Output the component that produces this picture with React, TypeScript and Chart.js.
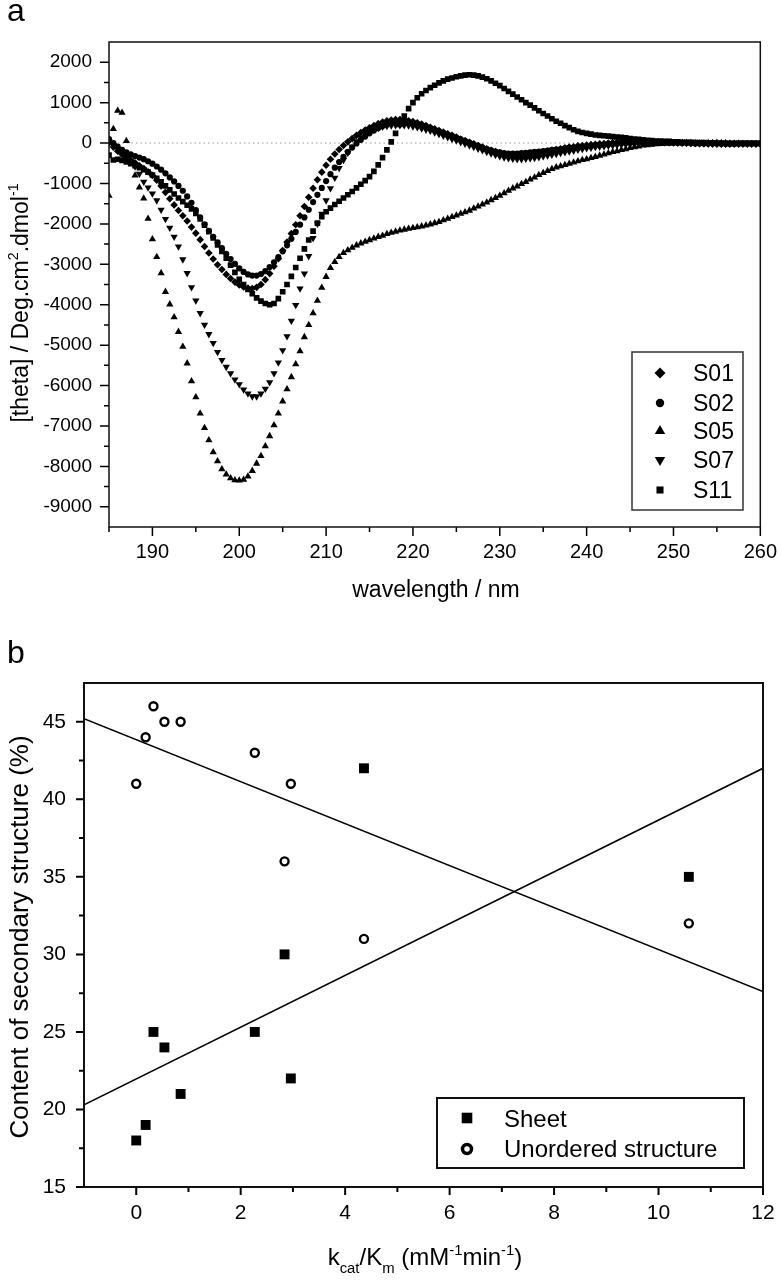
import React, { useEffect, useRef } from "react";
import { Chart, registerables } from "chart.js";
import { drawPoint } from "chart.js/helpers";

Chart.register(...registerables);

const FONT = "'Liberation Sans', Arial, Helvetica, sans-serif";

// ---------------- Panel a: CD spectra ----------------
const WAVELENGTH = [
  185, 185.5, 186, 186.5, 187, 187.5, 188, 188.5, 189, 189.5,
  190, 190.5, 191, 191.5, 192, 192.5, 193, 193.5, 194, 194.5,
  195, 195.5, 196, 196.5, 197, 197.5, 198, 198.5, 199, 199.5,
  200, 200.5, 201, 201.5, 202, 202.5, 203, 203.5, 204, 204.5,
  205, 205.5, 206, 206.5, 207, 207.5, 208, 208.5, 209, 209.5,
  210, 210.5, 211, 211.5, 212, 212.5, 213, 213.5, 214, 214.5,
  215, 215.5, 216, 216.5, 217, 217.5, 218, 218.5, 219, 219.5,
  220, 220.5, 221, 221.5, 222, 222.5, 223, 223.5, 224, 224.5,
  225, 225.5, 226, 226.5, 227, 227.5, 228, 228.5, 229, 229.5,
  230, 230.5, 231, 231.5, 232, 232.5, 233, 233.5, 234, 234.5,
  235, 235.5, 236, 236.5, 237, 237.5, 238, 238.5, 239, 239.5,
  240, 240.5, 241, 241.5, 242, 242.5, 243, 243.5, 244, 244.5,
  245, 245.5, 246, 246.5, 247, 247.5, 248, 248.5, 249, 249.5,
  250, 250.5, 251, 251.5, 252, 252.5, 253, 253.5, 254, 254.5,
  255, 255.5, 256, 256.5, 257, 257.5, 258, 258.5, 259, 259.5,
  260,
];

const S01 = [
  0, -100, -200, -280, -350, -420, -490, -560, -630, -710,
  -800, -920, -1060, -1220, -1380, -1530, -1670, -1800, -1930, -2080,
  -2230, -2390, -2560, -2720, -2870, -3010, -3130, -3250, -3350, -3440,
  -3510, -3560, -3590, -3600, -3570, -3500, -3380, -3230, -3050, -2860,
  -2660, -2450, -2240, -2020, -1800, -1570, -1340, -1120, -910, -720,
  -550, -400, -270, -160, -60, 30, 110, 190, 260, 320,
  380, 430, 480, 520, 550, 570, 580, 580, 570, 550,
  530, 500, 470, 430, 390, 350, 310, 270, 230, 190,
  150, 100, 60, 20, -20, -60, -100, -140, -180, -210,
  -240, -270, -290, -300, -300, -300, -290, -280, -260, -240,
  -220, -200, -180, -160, -140, -120, -100, -90, -70, -60,
  -50, -40, -30, -20, -10, 0, 10, 20, 20, 30,
  30, 30, 30, 30, 30, 20, 20, 20, 10, 10,
  10, 0, 0, 0, -10, -10, -10, -10, -20, -20,
  -20, -20, -20, -20, -20, -20, -20, -20, -20, -20,
  -20,
];

const S02 = [
  100, 0, -90, -170, -230, -280, -320, -360, -400, -450,
  -510, -580, -660, -750, -850, -950, -1060, -1180, -1320, -1480,
  -1660, -1840, -2010, -2170, -2320, -2460, -2600, -2740, -2870, -2990,
  -3100, -3190, -3250, -3280, -3280, -3240, -3170, -3070, -2950, -2820,
  -2680, -2530, -2370, -2200, -2020, -1840, -1650, -1460, -1280, -1110,
  -940, -770, -610, -470, -340, -220, -110, -10, 80, 160,
  240, 310, 370, 420, 460, 490, 510, 520, 520, 510,
  490, 470, 440, 410, 370, 330, 290, 250, 210, 170,
  130, 90, 50, 10, -30, -70, -110, -150, -180, -210,
  -230, -250, -260, -260, -260, -250, -240, -230, -220, -210,
  -200, -190, -170, -160, -150, -130, -120, -110, -100, -90,
  -80, -70, -60, -50, -40, -30, -20, -10, 0, 0,
  10, 10, 20, 20, 20, 20, 20, 20, 10, 10,
  10, 10, 0, 0, 0, -10, -10, -10, -10, -10,
  -10, -20, -20, -20, -20, -10, -10, -10, -10, -10,
  -10,
];

const S05 = [
  -1300, 350, 800, 750, 50, -450, -800, -1100, -1370, -1870,
  -2380, -2820, -3220, -3680, -3990, -4310, -4670, -5040, -5450, -5890,
  -6290, -6690, -7050, -7350, -7650, -7870, -8070, -8200, -8290, -8340,
  -8350, -8330, -8250, -8110, -7930, -7740, -7500, -7250, -6980, -6690,
  -6390, -6090, -5790, -5470, -5150, -4800, -4500, -4210, -3900, -3580,
  -3310, -3090, -2940, -2820, -2720, -2650, -2590, -2530, -2480, -2440,
  -2400, -2360, -2320, -2290, -2250, -2220, -2190, -2160, -2140, -2120,
  -2100, -2080, -2060, -2040, -2010, -1980, -1950, -1910, -1870, -1830,
  -1790, -1750, -1710, -1670, -1620, -1570, -1520, -1470, -1410, -1360,
  -1300, -1240, -1180, -1120, -1070, -1010, -960, -900, -850, -790,
  -740, -690, -640, -600, -570, -540, -510, -480, -450, -420,
  -400, -370, -340, -310, -280, -250, -220, -200, -170, -150,
  -120, -100, -80, -60, -50, -40, -30, -20, -10, -10,
  0, 0, 10, 10, 0, 0, -10, -10, 0, 0,
  10, 0, 0, -10, -10, -10, -20, -20, -20, -20,
  -20,
];

const S07 = [
  50, -50, -150, -250, -350, -450, -580, -760, -960, -1100,
  -1250, -1420, -1650, -1880, -2100, -2320, -2560, -2880, -3220, -3570,
  -3900, -4210, -4500, -4730, -4950, -5170, -5370, -5540, -5700, -5850,
  -5970, -6100, -6200, -6270, -6270, -6200, -6080, -5920, -5700, -5430,
  -5130, -4780, -4400, -4010, -3600, -3230, -2800, -2350, -2000, -1750,
  -1420, -1120, -860, -620, -420, -240, -90, 40, 140, 220,
  280, 330, 370, 400, 420, 430, 440, 440, 440, 430,
  410, 390, 360, 330, 300, 260, 220, 180, 140, 100,
  60, 20, -20, -60, -100, -140, -180, -220, -260, -300,
  -330, -360, -380, -390, -400, -400, -390, -380, -370, -350,
  -330, -310, -290, -270, -250, -230, -210, -190, -170, -150,
  -130, -120, -100, -90, -80, -70, -60, -50, -40, -30,
  -20, -10, 0, 0, 10, 10, 20, 20, 20, 20,
  10, 10, 10, 0, 0, 0, -10, -10, -10, -10,
  -20, -20, -20, -20, -20, -20, -20, -20, -20, -20,
  -20,
];

const S11 = [
  -300, -420, -400, -430, -470, -510, -560, -610, -660, -720,
  -790, -870, -960, -1060, -1160, -1260, -1360, -1450, -1540, -1630,
  -1740, -1880, -2030, -2190, -2350, -2520, -2680, -2850, -3020, -3200,
  -3370, -3500, -3620, -3730, -3830, -3910, -3970, -4000, -3970, -3850,
  -3680, -3500, -3300, -3080, -2850, -2620, -2400, -2180, -1980, -1820,
  -1700, -1610, -1520, -1440, -1360, -1280, -1200, -1110, -1020, -930,
  -830, -700, -540, -360, -170, 30, 240, 460, 670, 850,
  1000, 1120, 1220, 1300, 1370, 1430, 1490, 1540, 1580, 1610,
  1640, 1660, 1680, 1690, 1680, 1660, 1630, 1590, 1540, 1480,
  1420, 1350, 1280, 1210, 1140, 1070, 1000, 940, 870, 800,
  730, 670, 600, 540, 490, 430, 380, 330, 290, 260,
  240, 220, 200, 190, 180, 170, 160, 150, 140, 130,
  110, 100, 90, 80, 70, 60, 50, 50, 40, 40,
  30, 30, 20, 20, 20, 10, 10, 10, 0, 0,
  0, 0, -10, -10, -10, -10, -10, -10, -10, -10,
  -10,
];

const ZERO_LINE_X = [185, 260];
const ZERO_LINE_Y = [0, 0];

const TOP_X_TICKS = [190, 200, 210, 220, 230, 240, 250, 260];
const TOP_X_MINOR = [185, 195, 205, 215, 225, 235, 245, 255];
const TOP_Y_TICKS = [-9000, -8000, -7000, -6000, -5000, -4000, -3000, -2000, -1000, 0, 1000, 2000];
const TOP_Y_MINOR = [-8500, -7500, -6500, -5500, -4500, -3500, -2500, -1500, -500, 500, 1500];

// ---------------- Panel b: secondary structure vs kcat/Km ----------------
const KCAT_KM = [0, 0.18, 0.33, 0.54, 0.85, 2.27, 2.84, 2.96, 4.36, 10.58];
const SHEET = [18, 19, 25, 24, 21, 25, 30, 22, 42, 35];
const UNORDERED = [41, 44, 46, 45, 45, 43, 36, 41, 31, 32];
const FIT_X = [-1, 12];
const SHEET_FIT = [20.3, 42.0];
const UNORDERED_FIT = [45.2, 27.6];

const BOT_X_TICKS = [0, 2, 4, 6, 8, 10, 12];
const BOT_X_MINOR = [1, 3, 5, 7, 9, 11];
const BOT_Y_TICKS = [15, 20, 25, 30, 35, 40, 45];
const BOT_Y_MINOR = [17.5, 22.5, 27.5, 32.5, 37.5, 42.5];

type Seg = { t: string; pos?: "sup" | "sub" };

function drawRich(ctx: CanvasRenderingContext2D, segs: Seg[], x: number, y: number, size: number, align: "left" | "center") {
  const small = size * 0.62;
  const widths = segs.map((s) => {
    ctx.font = `${s.pos ? small : size}px ${FONT}`;
    return ctx.measureText(s.t).width;
  });
  const total = widths.reduce((a, b) => a + b, 0);
  let cx = align === "center" ? x - total / 2 : x;
  ctx.textAlign = "left";
  ctx.textBaseline = "alphabetic";
  segs.forEach((s, i) => {
    ctx.font = `${s.pos ? small : size}px ${FONT}`;
    const dy = s.pos === "sup" ? -size * 0.42 : s.pos === "sub" ? size * 0.33 : 0;
    ctx.fillText(s.t, cx, y + dy);
    cx += widths[i];
  });
}

type DecorCfg = {
  xMajor: number[];
  xMinor: number[];
  yMajor: number[];
  yMinor: number[];
  majorLen: number;
  minorLen: number;
  tickWidth: number;
  frameWidth: number;
  extra: (ctx: CanvasRenderingContext2D, chart: any) => void;
};

function makeDecor(id: string, d: DecorCfg) {
  return {
    id,
    afterDraw(chart: any) {
      const { ctx, chartArea: a, scales } = chart;
      const xs = scales.x;
      const ys = scales.y;
      ctx.save();
      ctx.strokeStyle = "#000";
      ctx.lineWidth = d.tickWidth;
      ctx.beginPath();
      const xt = (v: number, len: number) => {
        const px = xs.getPixelForValue(v);
        ctx.moveTo(px, a.bottom);
        ctx.lineTo(px, a.bottom + len);
      };
      const yt = (v: number, len: number) => {
        const py = ys.getPixelForValue(v);
        ctx.moveTo(a.left, py);
        ctx.lineTo(a.left - len, py);
      };
      d.xMajor.forEach((v) => xt(v, d.majorLen));
      d.xMinor.forEach((v) => xt(v, d.minorLen));
      d.yMajor.forEach((v) => yt(v, d.majorLen));
      d.yMinor.forEach((v) => yt(v, d.minorLen));
      ctx.stroke();
      ctx.lineWidth = d.frameWidth;
      ctx.strokeStyle = "#111";
      ctx.strokeRect(a.left, a.top, a.right - a.left, a.bottom - a.top);
      ctx.fillStyle = "#000";
      d.extra(ctx, chart);
      ctx.restore();
    },
  };
}

const TOP_SERIES = [
  { label: "S01", data: S01, style: "rectRot", radius: 3.8, rotation: 0, legendRadius: 5.5 },
  { label: "S02", data: S02, style: "circle", radius: 3.1, rotation: 0, legendRadius: 4.2 },
  { label: "S05", data: S05, style: "triangle", radius: 4.2, rotation: 0, legendRadius: 6 },
  { label: "S07", data: S07, style: "triangle", radius: 4.2, rotation: 180, legendRadius: 6 },
  { label: "S11", data: S11, style: "rect", radius: 4, rotation: 0, legendRadius: 5 },
];

function TopChart() {
  const ref = useRef<HTMLCanvasElement | null>(null);
  useEffect(() => {
    if (!ref.current) return;
    const decor = makeDecor("decorTop", {
      xMajor: TOP_X_TICKS,
      xMinor: TOP_X_MINOR,
      yMajor: TOP_Y_TICKS,
      yMinor: TOP_Y_MINOR,
      majorLen: 9,
      minorLen: 5,
      tickWidth: 1.5,
      frameWidth: 1.5,
      extra: (ctx) => {
        ctx.font = `32px ${FONT}`;
        ctx.textAlign = "left";
        ctx.textBaseline = "alphabetic";
        ctx.fillText("a", 7, 21);
        ctx.font = `23px ${FONT}`;
        ctx.textAlign = "center";
        ctx.fillText("wavelength / nm", 436, 597);
        ctx.save();
        ctx.translate(28, 303);
        ctx.rotate(-Math.PI / 2);
        drawRich(ctx, [{ t: "[theta] / Deg.cm" }, { t: "2", pos: "sup" }, { t: ".dmol" }, { t: "-1", pos: "sup" }], 0, 0, 23, "center");
        ctx.restore();
        // legend
        ctx.lineWidth = 1.5;
        ctx.strokeStyle = "#333";
        ctx.strokeRect(632, 352, 111, 158);
        const ys = [373, 403, 431, 460, 490];
        TOP_SERIES.forEach((s, i) => {
          ctx.fillStyle = "#000";
          drawPoint(ctx, { pointStyle: s.style as any, rotation: s.rotation, radius: s.legendRadius, borderWidth: 0 } as any, 660, ys[i]);
          ctx.font = `23px ${FONT}`;
          ctx.textAlign = "left";
          ctx.textBaseline = "alphabetic";
          ctx.fillText(s.label, 693, ys[i] + 8);
        });
      },
    });
    const datasets: any[] = TOP_SERIES.map((s) => ({
      label: s.label,
      data: WAVELENGTH.map((x, i) => ({ x, y: s.data[i] })),
      showLine: false,
      pointStyle: s.style,
      pointRotation: s.rotation,
      pointRadius: s.radius,
      pointBackgroundColor: "#000",
      pointBorderWidth: 0,
      order: 1,
    }));
    datasets.push({
      label: "zero",
      data: ZERO_LINE_X.map((x, i) => ({ x, y: ZERO_LINE_Y[i] })),
      showLine: true,
      borderColor: "#9a9a9a",
      borderWidth: 1,
      borderDash: [1.5, 3],
      pointRadius: 0,
      order: 10,
    });
    const chart = new Chart(ref.current, {
      type: "scatter",
      data: { datasets },
      options: {
        animation: false,
        responsive: false,
        devicePixelRatio: 1,
        layout: { padding: { top: 42, right: 18, left: 0, bottom: 0 } },
        plugins: { legend: { display: false }, tooltip: { enabled: false } },
        scales: {
          x: {
            type: "linear",
            min: 185,
            max: 260,
            afterFit: (s: any) => { s.height = 93; },
            afterBuildTicks: (s: any) => { s.ticks = TOP_X_TICKS.map((v) => ({ value: v })); },
            grid: { display: true, drawOnChartArea: false, drawTicks: true, tickLength: 9, tickColor: "rgba(0,0,0,0)" },
            border: { display: false },
            ticks: { padding: 4, color: "#000", font: { family: FONT, size: 20 }, maxRotation: 0, callback: (v: any) => String(v) },
          },
          y: {
            type: "linear",
            min: -9500,
            max: 2500,
            afterFit: (s: any) => { s.width = 109; },
            afterBuildTicks: (s: any) => { s.ticks = TOP_Y_TICKS.map((v) => ({ value: v })); },
            grid: { display: true, drawOnChartArea: false, drawTicks: true, tickLength: 9, tickColor: "rgba(0,0,0,0)" },
            border: { display: false },
            ticks: { padding: 8, color: "#000", font: { family: FONT, size: 19 }, callback: (v: any) => String(v) },
          },
        },
      } as any,
      plugins: [decor],
    });
    return () => chart.destroy();
  }, []);
  return <canvas ref={ref} width={781} height={620} style={{ position: "absolute", left: 0, top: 0, width: 781, height: 620 }} />;
}

function BottomChart() {
  const ref = useRef<HTMLCanvasElement | null>(null);
  useEffect(() => {
    if (!ref.current) return;
    const decor = makeDecor("decorBottom", {
      xMajor: BOT_X_TICKS,
      xMinor: BOT_X_MINOR,
      yMajor: BOT_Y_TICKS,
      yMinor: BOT_Y_MINOR,
      majorLen: 8,
      minorLen: 5,
      tickWidth: 2,
      frameWidth: 2,
      extra: (ctx) => {
        ctx.font = `32px ${FONT}`;
        ctx.textAlign = "left";
        ctx.textBaseline = "alphabetic";
        ctx.fillText("b", 7, 43);
        drawRich(
          ctx,
          [
            { t: "k" }, { t: "cat", pos: "sub" }, { t: "/K" }, { t: "m", pos: "sub" },
            { t: " (mM" }, { t: "-1", pos: "sup" }, { t: "min" }, { t: "-1", pos: "sup" }, { t: ")" },
          ],
          425, 645, 24, "center"
        );
        ctx.save();
        ctx.translate(28, 317);
        ctx.rotate(-Math.PI / 2);
        ctx.font = `26px ${FONT}`;
        ctx.textAlign = "center";
        ctx.textBaseline = "alphabetic";
        ctx.fillText("Content of secondary structure (%)", 0, 0);
        ctx.restore();
        // legend
        ctx.lineWidth = 2;
        ctx.strokeStyle = "#111";
        ctx.strokeRect(437, 478, 307, 70);
        ctx.fillStyle = "#000";
        drawPoint(ctx, { pointStyle: "rect", rotation: 0, radius: 7.5, borderWidth: 0 } as any, 467, 498);
        ctx.fillStyle = "#fff";
        ctx.strokeStyle = "#000";
        ctx.lineWidth = 3.5;
        drawPoint(ctx, { pointStyle: "circle", rotation: 0, radius: 4.5, borderWidth: 3.5 } as any, 467, 529);
        ctx.fillStyle = "#000";
        ctx.font = `24px ${FONT}`;
        ctx.textAlign = "left";
        ctx.textBaseline = "alphabetic";
        ctx.fillText("Sheet", 504, 507);
        ctx.fillText("Unordered structure", 504, 537);
      },
    });
    const chart = new Chart(ref.current, {
      type: "scatter",
      data: {
        datasets: [
          {
            label: "Sheet",
            data: KCAT_KM.map((x, i) => ({ x, y: SHEET[i] })),
            pointStyle: "rect",
            pointRadius: 7,
            pointBackgroundColor: "#000",
            pointBorderWidth: 0,
          },
          {
            label: "Unordered structure",
            data: KCAT_KM.map((x, i) => ({ x, y: UNORDERED[i] })),
            pointStyle: "circle",
            pointRadius: 4,
            pointBackgroundColor: "#fff",
            pointBorderColor: "#000",
            pointBorderWidth: 2.4,
          },
          {
            label: "Sheet fit",
            data: FIT_X.map((x, i) => ({ x, y: SHEET_FIT[i] })),
            showLine: true,
            borderColor: "#000",
            borderWidth: 1.6,
            pointRadius: 0,
          },
          {
            label: "Unordered fit",
            data: FIT_X.map((x, i) => ({ x, y: UNORDERED_FIT[i] })),
            showLine: true,
            borderColor: "#000",
            borderWidth: 1.6,
            pointRadius: 0,
          },
        ] as any,
      },
      options: {
        animation: false,
        responsive: false,
        devicePixelRatio: 1,
        layout: { padding: { top: 63, right: 18, left: 0, bottom: 0 } },
        plugins: { legend: { display: false }, tooltip: { enabled: false } },
        scales: {
          x: {
            type: "linear",
            min: -1,
            max: 12,
            afterFit: (s: any) => { s.height = 93; },
            afterBuildTicks: (s: any) => { s.ticks = BOT_X_TICKS.map((v) => ({ value: v })); },
            grid: { display: true, drawOnChartArea: false, drawTicks: true, tickLength: 8, tickColor: "rgba(0,0,0,0)" },
            border: { display: false },
            ticks: { padding: 6, color: "#000", font: { family: FONT, size: 21 }, maxRotation: 0, callback: (v: any) => String(v) },
          },
          y: {
            type: "linear",
            min: 15,
            max: 47.5,
            afterFit: (s: any) => { s.width = 84; },
            afterBuildTicks: (s: any) => { s.ticks = BOT_Y_TICKS.map((v) => ({ value: v })); },
            grid: { display: true, drawOnChartArea: false, drawTicks: true, tickLength: 8, tickColor: "rgba(0,0,0,0)" },
            border: { display: false },
            ticks: { padding: 10, color: "#000", font: { family: FONT, size: 21 }, callback: (v: any) => String(v) },
          },
        },
      } as any,
      plugins: [decor],
    });
    return () => chart.destroy();
  }, []);
  return <canvas ref={ref} width={781} height={660} style={{ position: "absolute", left: 0, top: 620, width: 781, height: 660 }} />;
}

export default function App() {
  return (
    <div style={{ position: "absolute", left: 0, top: 0, width: 781, height: 1280, background: "#fff", overflow: "hidden" }}>
      <TopChart />
      <BottomChart />
    </div>
  );
}
